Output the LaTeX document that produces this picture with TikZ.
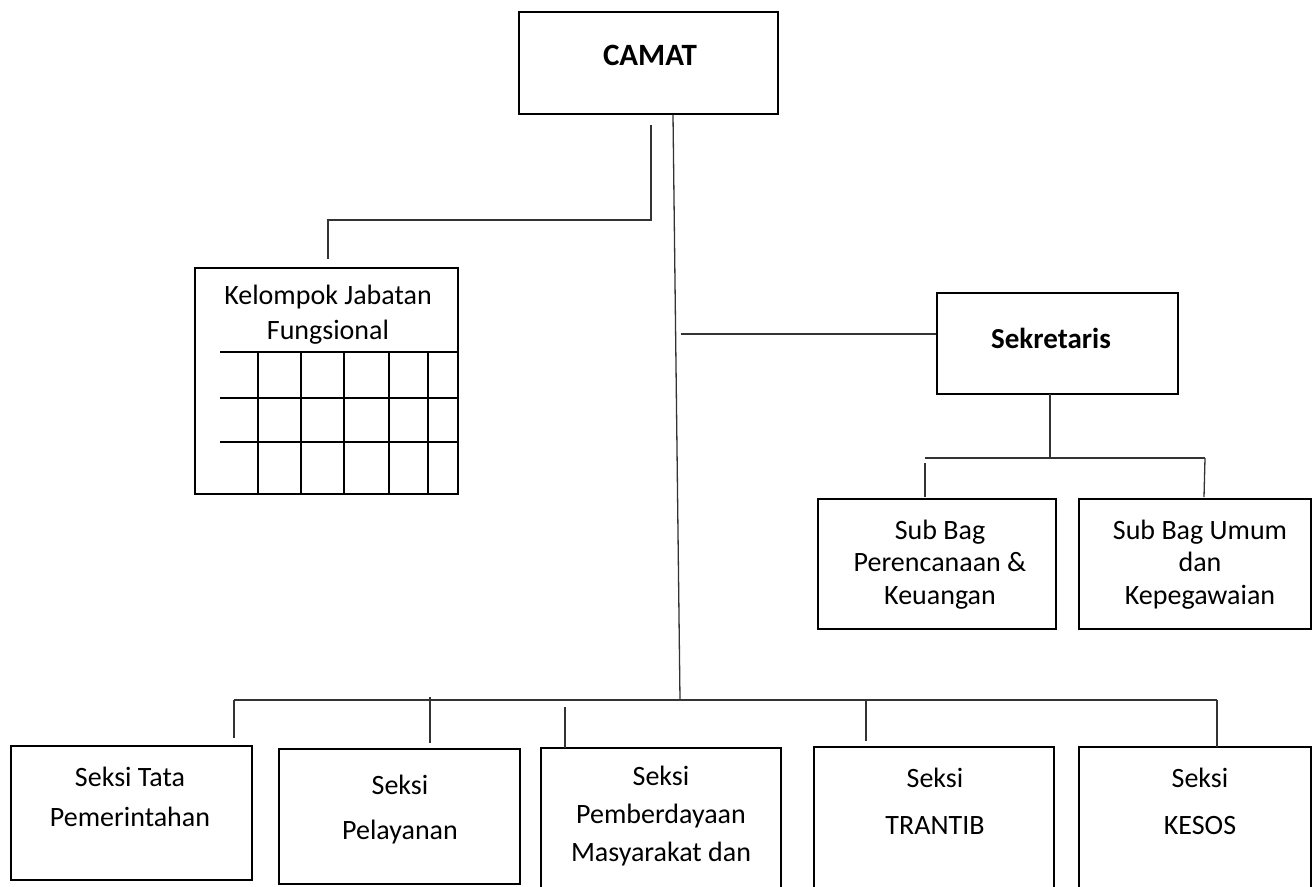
\documentclass[tikz,border=0pt]{standalone}
\usepackage{fontspec}
\setmainfont{Carlito}
\usetikzlibrary{calc}
\begin{document}
\begin{tikzpicture}[x=1pt,y=-1pt,
  box/.style={draw=black, line width=2.8pt, inner sep=0pt},
  conn/.style={draw=black!80, line width=1.3pt},
  gridline/.style={draw=black, line width=2pt},
  txt/.style={align=center, inner sep=0pt},
  boldtxt/.style={font=\fontsize{31}{36}\selectfont\bfseries, inner sep=0pt}]
\useasboundingbox (0,0) rectangle (1313,886);
\clip (0,0) rectangle (1313,886);
% boxes
\node[box, minimum width=259pt, minimum height=102pt] (camat) at (648.5,63) {};
\node[box, minimum width=263pt, minimum height=226pt] (kel) at (326.5,381) {};
\node[box, minimum width=241pt, minimum height=101pt] (sek) at (1057.5,343.5) {};
\node[box, minimum width=238pt, minimum height=130pt] (subA) at (937,564) {};
\node[box, minimum width=232pt, minimum height=130pt] (subB) at (1195,564) {};
\node[box, minimum width=241pt, minimum height=134pt] (s1) at (131.5,813) {};
\node[box, minimum width=241pt, minimum height=135pt] (s2) at (399.5,816.5) {};
\node[box, minimum width=240pt, minimum height=152pt] (s3) at (661,824) {};
\node[box, minimum width=240pt, minimum height=153pt] (s4) at (934,823.5) {};
\node[box, minimum width=232pt, minimum height=153pt] (s5) at (1195,823.5) {};
% texts
\node[boldtxt] (tcamat) at (650,55) {CAMAT};
\node[boldtxt, font=\fontsize{29}{36}\selectfont\bfseries] (tsek) at (1051,338) {Sekretaris};
\node[txt, font=\fontsize{28}{35}\selectfont] (tkel) at (328,314.5) {Kelompok Jabatan\\Fungsional};
\node[txt, font=\fontsize{28}{32.5}\selectfont] (tsubA) at (940,564.5) {Sub Bag\\Perencanaan \&\\Keuangan};
\node[txt, font=\fontsize{28}{32.5}\selectfont] (tsubB) at (1200,564.5) {Sub Bag Umum\\dan\\Kepegawaian};
\node[txt, font=\fontsize{28}{40}\selectfont] (ts1) at (130,797) {Seksi Tata\\Pemerintahan};
\node[txt, font=\fontsize{28}{45}\selectfont] (ts2) at (400,810) {Seksi\\Pelayanan};
\node[txt, font=\fontsize{28}{38}\selectfont] (ts3) at (661,816) {Seksi\\Pemberdayaan\\Masyarakat dan};
\node[txt, font=\fontsize{28}{47}\selectfont] (ts4) at (935,801) {Seksi\\TRANTIB};
\node[txt, font=\fontsize{28}{47}\selectfont] (ts5) at (1200,801) {Seksi\\KESOS};
% grid in Kelompok box
\foreach \y in {352,398,442} \draw[gridline] (220,\y) -- (kel.east |- 0,\y);
\foreach \x in {258,301,344,389,428} \draw[gridline] (\x,352) -- (\x,0 |- kel.south);
% connector coordinates
\coordinate (trunkTop) at (673,115);
\coordinate (trunkBot) at (680,700);
\coordinate (kelA) at (651,125);
\coordinate (kelB) at (651,220);
\coordinate (kelC) at (328,220);
\coordinate (kelD) at (328,259);
\coordinate (sekA) at (681,334);
\coordinate (sekB) at (1050,394);
\coordinate (sekC) at (1050,458);
\coordinate (subL0) at (925,458);
\coordinate (subL1) at (925,463);
\coordinate (subL2) at (925,497);
\coordinate (subR0) at (1205,458);
\coordinate (subR2) at (1204,497);
\coordinate (bL) at (234,700);
\coordinate (bR) at (1217,700);
\coordinate (d1) at (234,738);
\coordinate (d2a) at (430,697);
\coordinate (d2) at (430,743);
\coordinate (d3a) at (565,707);
\coordinate (d3) at (565,748);
\coordinate (d4a) at (866,700);
\coordinate (d4) at (866,741);
\coordinate (d5) at (1217,747);
% connectors
\draw[conn] (trunkTop) -- (trunkBot);
\draw[conn] (kelA) -- (kelB) -- (kelC) -- (kelD);
\draw[conn] (sekA) -- (sekA -| sek.west);
\draw[conn] (sekB) -- (sekC);
\draw[conn] (subL0) -- (subR0);
\draw[conn] (subL1) -- (subL2);
\draw[conn] (subR0) -- (subR2);
\draw[conn] (bL) -- (bR);
\draw[conn] (bL) -- (d1);
\draw[conn] (d2a) -- (d2);
\draw[conn] (d3a) -- (d3);
\draw[conn] (d4a) -- (d4);
\draw[conn] (bR) -- (d5);
\end{tikzpicture}
\end{document}
